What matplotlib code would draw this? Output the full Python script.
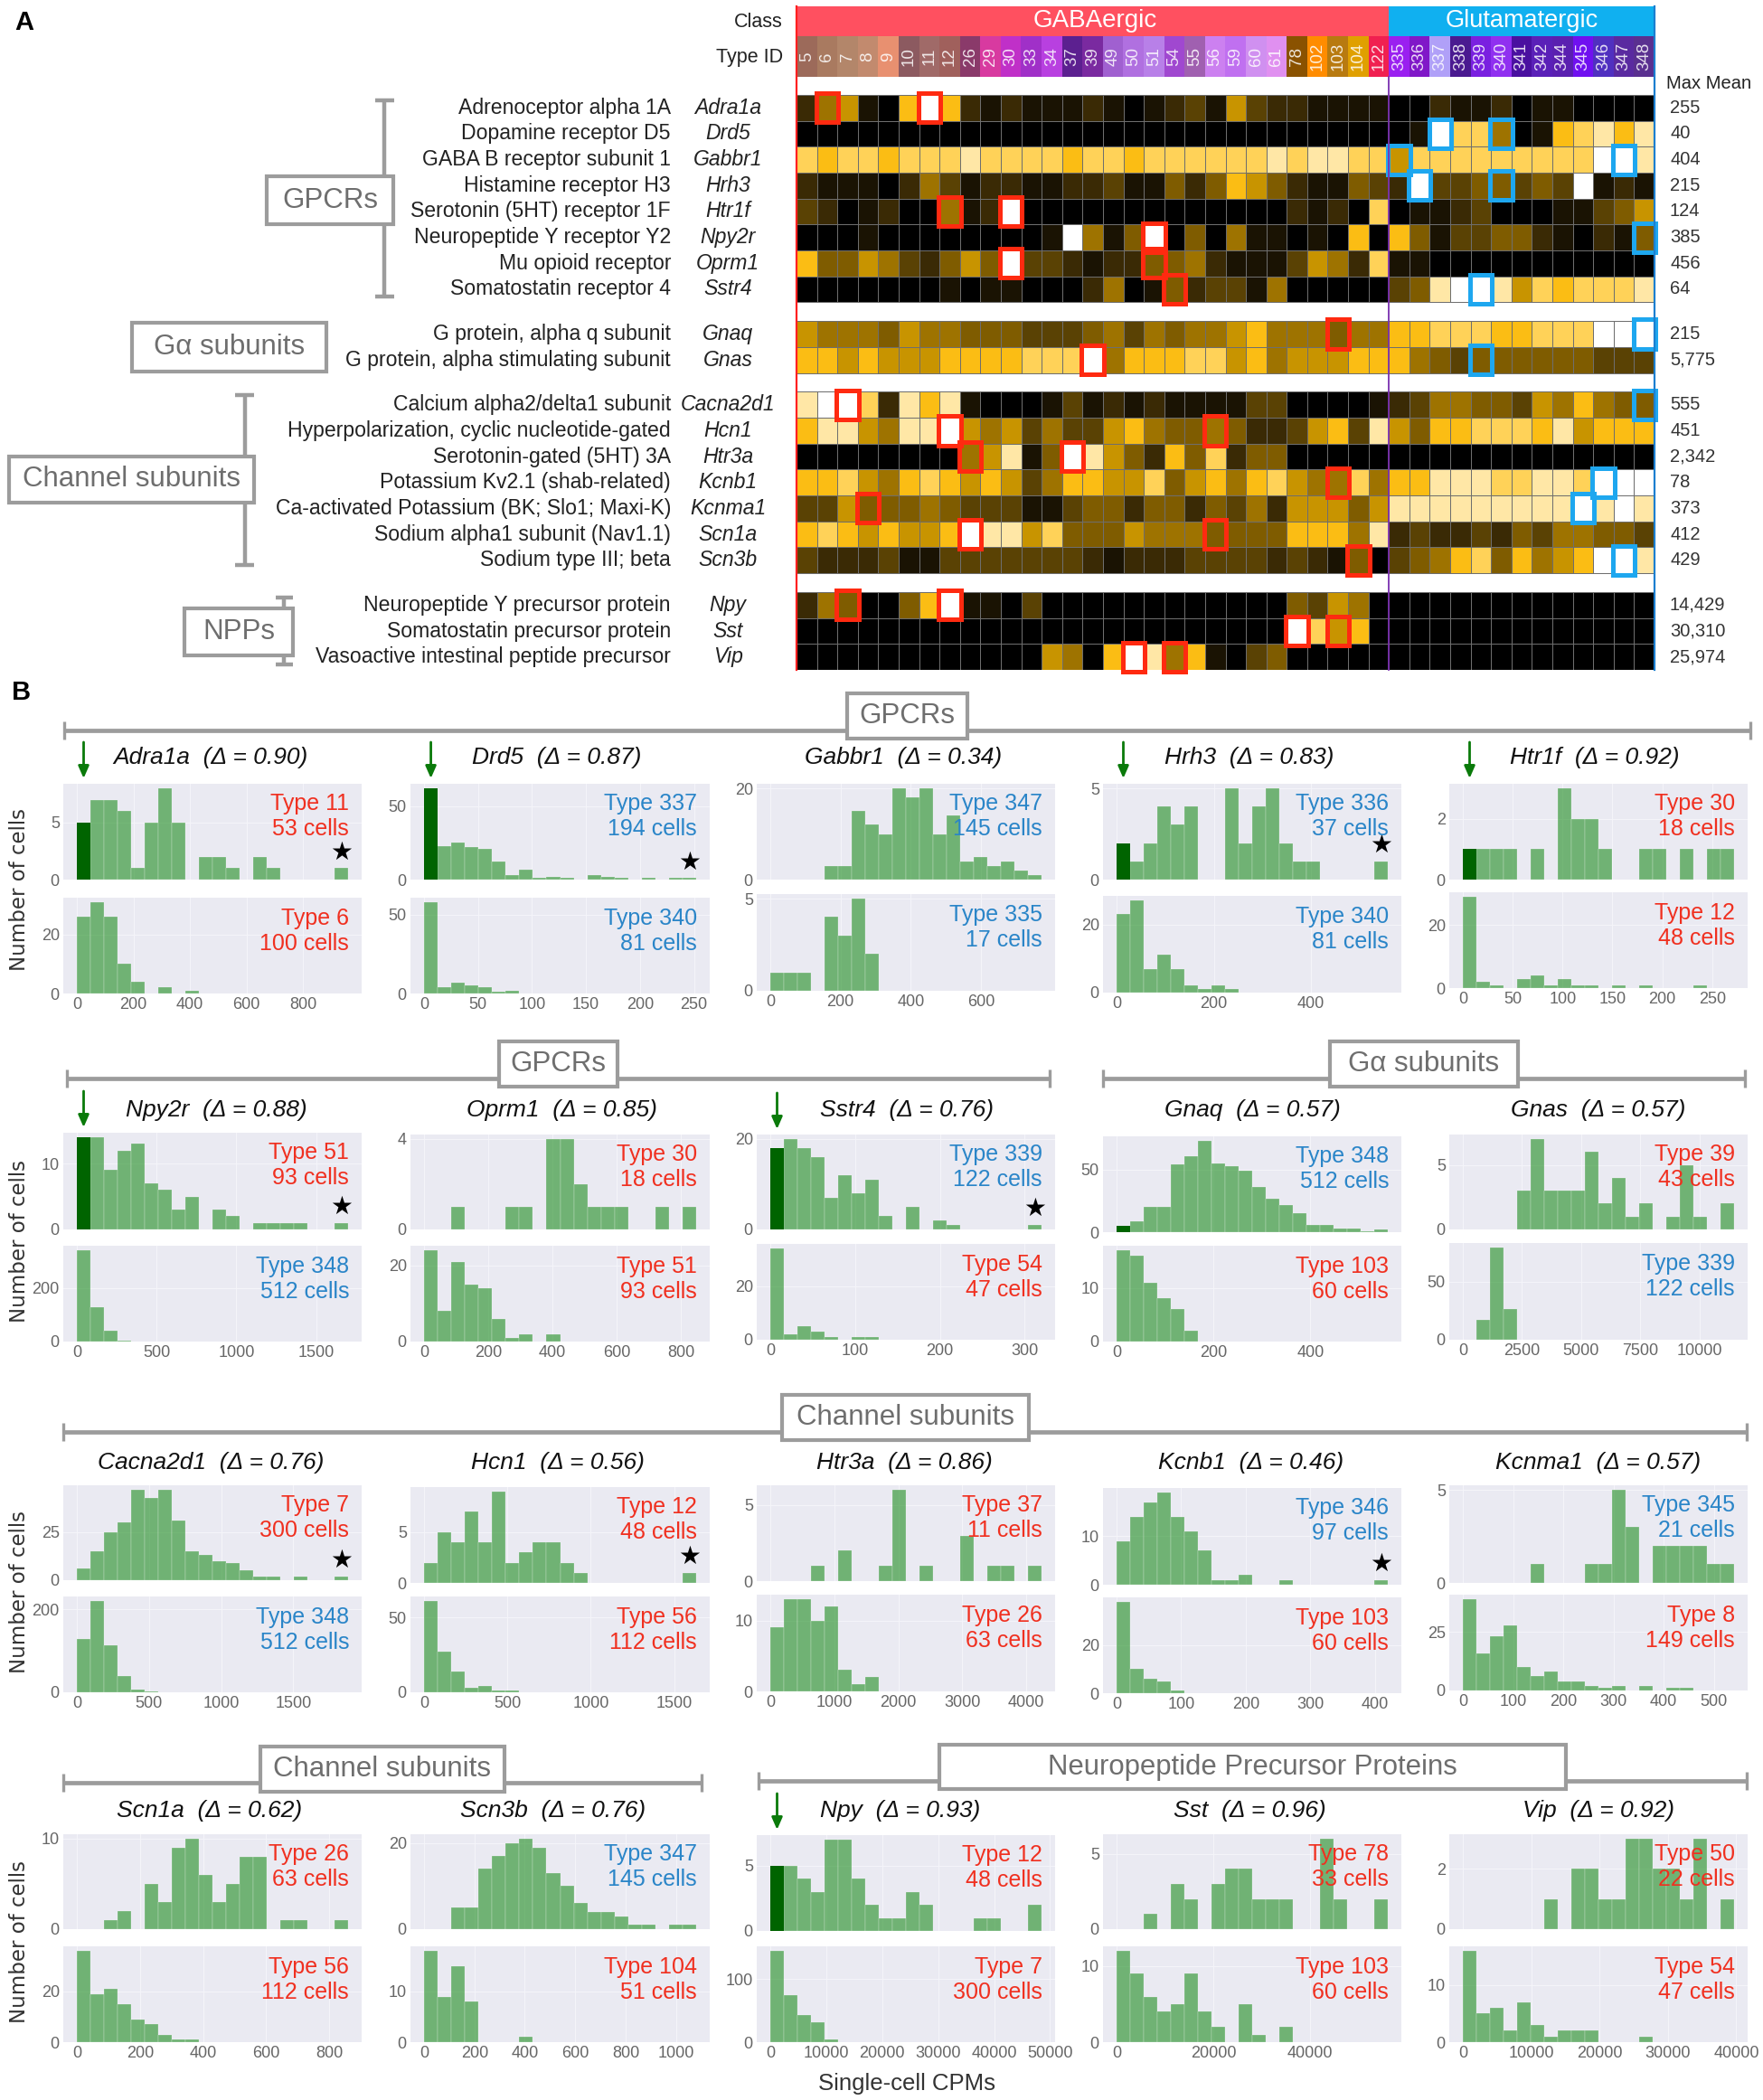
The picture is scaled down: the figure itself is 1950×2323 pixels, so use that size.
import matplotlib
matplotlib.use("Agg")
import matplotlib.pyplot as plt
import numpy as np
from matplotlib.colors import ListedColormap
from matplotlib.patches import Rectangle

plt.rcParams['font.family'] = ['Liberation Sans', 'DejaVu Sans']
W, H = 1950, 2323

# ---------------- heat map data (expression level 0..10 per cell type) ----------------
type_ids = ['5','6','7','8','9','10','11','12','26','29','30','33','34','37','39','49','50','51','54','55',
            '56','59','60','61','78','102','103','104','122',
            '335','336','337','338','339','340','341','342','344','345','346','347','348']
type_colors = ['#9c6a5a','#a97a60','#b3866a','#c28a6e','#e89070','#8c5a60','#a06a68','#a0605c','#8a3a6a','#d83aa0',
               '#c030c8','#a030c8','#b840e0','#5c2090','#7a2aa0','#a060d0','#b070e0','#b880e8','#a048d0','#a060b0',
               '#cc80f0','#c070f0','#d090f0','#e090f0','#8a5200','#ff8c00','#b87a10','#e0a000','#f02050',
               '#9a20f0','#8018c8','#b0a0f8','#4a1a90','#7a20e0','#9030f0','#4a10a0','#5a20b8','#5a20b0','#7010f0',
               '#5030c0','#5a2aa0','#5a3090'][:42]
gene_desc = ['Adrenoceptor alpha 1A','Dopamine receptor D5','GABA B receptor subunit 1','Histamine receptor H3',
             'Serotonin (5HT) receptor 1F','Neuropeptide Y receptor Y2','Mu opioid receptor','Somatostatin receptor 4',
             'G protein, alpha q subunit','G protein, alpha stimulating subunit',
             'Calcium alpha2/delta1 subunit','Hyperpolarization, cyclic nucleotide-gated','Serotonin-gated (5HT) 3A',
             'Potassium Kv2.1 (shab-related)','Ca-activated Potassium (BK; Slo1; Maxi-K)','Sodium alpha1 subunit (Nav1.1)',
             'Sodium type III; beta',
             'Neuropeptide Y precursor protein','Somatostatin precursor protein','Vasoactive intestinal peptide precursor']
gene_names = ['Adra1a','Drd5','Gabbr1','Hrh3','Htr1f','Npy2r','Oprm1','Sstr4','Gnaq','Gnas','Cacna2d1','Hcn1','Htr3a',
              'Kcnb1','Kcnma1','Scn1a','Scn3b','Npy','Sst','Vip']
max_mean = ['255','40','404','215','124','385','456','64','215','5,775','555','451','2,342','78','373','412','429',
            '14,429','30,310','25,974']

row_adra1a = [2,5,6,1,0,7,10,7,2,1,2,1,1,1,2,1,0,1,2,3,1,6,3,2,2,1,1,1,1, 0,0,2,1,1,2,0,1,1,0,0,0,0]
row_drd5   = [0]*29 + [0,1,10,8,8,5,0,1,7,8,9,7,9]
row_gabbr1 = [8,7,8,8,7,8,8,8,9,8,8,8,8,7,8,8,7,8,8,8,8,8,8,9,8,9,9,8,8, 6,8,8,8,8,8,8,8,8,8,10,10,9]
row_hrh3   = [2,1,1,1,0,2,5,3,1,2,2,1,1,2,2,3,1,1,4,2,4,7,6,4,2,1,1,4,3, 2,10,3,3,4,4,3,4,3,10,1,2,1]
row_htr1f  = [3,2,0,1,2,0,0,5,1,2,10,0,0,0,0,0,0,0,0,0,0,0,0,0,2,1,2,0,8, 0,1,1,2,3,0,0,0,1,1,3,4,6]
row_npy2r  = [0,0,0,1,0,0,0,0,0,0,0,0,1,10,5,1,4,10,0,4,0,5,1,1,0,1,0,7,0, 7,4,1,3,3,4,4,2,1,0,2,1,4]
row_oprm1  = [7,4,4,6,5,3,2,4,6,4,10,3,3,2,1,2,2,4,4,5,2,1,1,1,3,6,5,2,8, 1,1,0,0,0,0,0,0,0,0,0,0,0]
row_sstr4  = [0,0,0,0,0,0,0,1,0,1,1,0,0,0,2,5,0,1,4,2,3,3,1,5,0,0,0,0,0, 3,4,9,10,10,9,6,8,7,8,8,8,9]
row_gnaq   = [6,5,5,5,4,6,5,5,4,4,4,3,3,3,4,5,3,5,4,5,5,6,7,5,5,5,4,5,5, 7,7,8,8,8,7,7,8,8,8,10,10,10]
row_gnas   = [7,7,6,7,6,6,6,7,7,7,7,8,8,8,10,5,7,7,7,8,8,6,7,5,6,6,6,7,7, 7,5,4,3,4,4,4,4,4,4,3,3,3]
row_cacna2d1 = [9,10,10,8,2,9,7,9,1,0,0,0,1,3,1,2,1,2,1,1,1,1,3,3,0,0,0,0,1, 2,3,5,5,4,4,3,6,5,7,5,4,4]
row_hcn1   = [7,9,9,6,5,9,9,10,6,5,6,3,5,3,3,6,7,5,4,4,5,4,2,2,3,6,7,3,9, 6,4,7,7,8,8,8,7,9,6,7,7,7]
row_htr3a  = [0,0,0,0,0,0,0,0,5,6,9,1,4,10,9,6,4,2,7,4,8,2,4,4,0,0,0,0,0, 0,0,0,0,0,0,0,0,0,0,0,0,0]
row_kcnb1  = [7,7,8,6,5,7,8,7,6,7,6,3,5,7,7,6,6,8,4,6,7,5,7,8,6,5,5,8,5, 7,7,9,9,9,8,8,9,9,8,10,10,10]
row_kcnma1 = [3,3,6,4,4,4,5,4,3,3,3,1,1,3,4,4,2,4,4,2,4,3,5,2,6,6,6,4,6, 9,9,9,9,9,9,9,9,9,10,9,10,9]
row_scn1a  = [7,8,7,6,7,6,6,7,10,9,9,6,8,4,4,4,6,5,5,5,4,4,4,4,7,7,7,5,9, 2,3,2,2,3,2,4,3,5,5,4,4,3]
row_scn3b  = [3,2,2,2,3,1,1,3,3,3,3,3,3,3,2,1,2,2,2,3,3,3,3,2,3,2,1,4,0, 3,4,5,7,8,4,7,5,6,7,10,10,9]
row_npy    = [2,5,4,0,0,4,7,10,1,1,0,3,0,0,0,0,0,0,0,0,0,0,0,0,4,3,6,5,0] + [0]*13
row_sst    = [0]*24 + [10,8,6,7,0] + [0]*13
row_vip    = [0]*12 + [6,5,0,7,10,9,5,7,1,0,3,4,0,0,0,0,0] + [0]*13
heat_rows = [row_adra1a,row_drd5,row_gabbr1,row_hrh3,row_htr1f,row_npy2r,row_oprm1,row_sstr4,row_gnaq,row_gnas,
             row_cacna2d1,row_hcn1,row_htr3a,row_kcnb1,row_kcnma1,row_scn1a,row_scn3b,row_npy,row_sst,row_vip]
group_sizes = [8, 2, 7, 3]
# highlighted types: one pair per gene
hl_types = [('6','11'),('337','340'),('335','347'),('336','340'),('12','30'),('51','348'),('30','51'),('54','339'),
            ('103','348'),('39','339'),('7','348'),('12','56'),('26','37'),('103','346'),('8','345'),('26','56'),
            ('104','347'),('7','12'),('78','103'),('50','54')]
level_colors = ['#000000','#1a1303','#3a2a05','#5a4204','#7f5c00','#9e7300','#c89400','#fbbd14','#ffd258','#ffe7a6','#ffffff']

# ---------------- histogram data ----------------
adra1a_top = [5,7,7,6,1,5,8,5,0,2,2,1,0,2,1,0,0,0,0,1]
adra1a_bot = [26,31,26,10,4,0,2,0,1]
drd5_top = [62,23,25,22,21,12,3,7,1,2,1,0,3,2,1,0,1,0,1,1]
drd5_bot = [58,4,7,5,4,1,2]
gabbr1_top = [0,0,0,0,3,3,15,12,10,20,18,20,10,14,4,5,3,4,2,1]
gabbr1_bot = [1,1,1,0,4,3,5,2]
hrh3_top = [2,1,2,4,3,4,0,0,5,2,4,5,2,1,1,0,0,0,0,1]
hrh3_bot = [23,27,7,11,7,2,1,2,1]
htr1f_top = [1,1,1,1,0,1,0,3,2,2,1,0,0,1,1,0,1,0,1,1]
htr1f_bot = [29,2,1,0,3,4,1,3,1,1,0,1,0,1,0,0,0,1]
npy2r_top = [14,14,9,12,13,7,6,3,5,0,3,2,0,1,1,1,1,0,0,1]
npy2r_bot = [340,127,40,5]
oprm1_top = [0,0,1,0,0,0,1,1,0,4,4,2,1,1,1,0,0,1,0,1]
oprm1_bot = [24,8,21,15,14,6,1,2,0,2]
sstr4_top = [18,20,18,16,7,12,8,11,3,0,5,0,2,1,0,0,0,0,0,1]
sstr4_bot = [34,2,5,3,1,0,1,1]
gnaq_top = [5,9,20,20,54,61,73,55,53,49,36,27,22,15,6,6,3,3,1,2]
gnaq_bot = [17,16,11,8,6,2]
gnas_top = [0,0,0,0,3,7,3,3,3,6,2,4,1,2,0,1,5,1,0,2]
gnas_bot = [0,17,79,26]
cacna2d1_top = [6,15,25,30,47,43,47,31,15,13,10,9,5,2,2,0,2,0,0,2]
cacna2d1_bot = [128,220,113,40,7,2]
hcn1_top = [2,5,4,7,4,9,2,3,4,4,2,1,0,0,0,0,0,0,0,1]
hcn1_bot = [61,27,14,3,4,1,1]
htr3a_top = [0,0,0,1,0,2,0,0,1,6,0,1,0,0,3,0,1,1,0,1]
htr3a_bot = [9,13,13,10,12,3,1,2]
kcnb1_top = [9,14,17,19,14,11,7,1,1,2,0,0,1,0,0,0,0,0,0,1]
kcnb1_bot = [38,10,6,5,1]
kcnma1_top = [0,0,0,0,0,1,0,0,0,1,1,5,3,0,2,2,2,2,1,1]
kcnma1_bot = [39,16,23,28,10,6,8,4,4,2,1,2,0,2,0,1,1]
scn1a_top = [0,0,1,2,0,5,3,9,10,6,3,5,8,8,0,1,1,0,0,1]
scn1a_bot = [36,19,21,15,9,7,3,1,1]
scn3b_top = [0,0,5,5,14,17,20,21,19,13,10,6,4,4,3,1,1,0,1,1]
scn3b_bot = [18,9,15,8,0,0,0,1]
npy_top = [5,5,4,3,7,7,4,2,1,1,3,2,0,0,0,1,1,0,0,2]
npy_bot = [145,75,43,32,5]
sst_top = [0,0,1,0,3,2,0,3,4,4,2,2,2,0,0,6,2,0,0,2]
sst_bot = [12,9,6,4,5,9,4,2,0,5,1,0,2]
vip_top = [0,0,0,0,0,0,1,0,2,2,1,1,3,3,2,2,1,3,0,1]
vip_bot = [16,5,6,2,7,3,1,2,2,2,0,0,0,1]

genes = ['Adra1a','Drd5','Gabbr1','Hrh3','Htr1f','Npy2r','Oprm1','Sstr4','Gnaq','Gnas',
         'Cacna2d1','Hcn1','Htr3a','Kcnb1','Kcnma1','Scn1a','Scn3b','Npy','Sst','Vip']
deltas = ['0.90','0.87','0.34','0.83','0.92','0.88','0.85','0.76','0.57','0.57',
          '0.76','0.56','0.86','0.46','0.57','0.62','0.76','0.93','0.96','0.92']
bin_widths = [48,12.6,38.6,27.9,13.6,85,42.4,16,28,573,94,81.6,212,21,27,43,54,2424,2800,1984]
tops = [adra1a_top,drd5_top,gabbr1_top,hrh3_top,htr1f_top,npy2r_top,oprm1_top,sstr4_top,gnaq_top,gnas_top,
        cacna2d1_top,hcn1_top,htr3a_top,kcnb1_top,kcnma1_top,scn1a_top,scn3b_top,npy_top,sst_top,vip_top]
bots = [adra1a_bot,drd5_bot,gabbr1_bot,hrh3_bot,htr1f_bot,npy2r_bot,oprm1_bot,sstr4_bot,gnaq_bot,gnas_bot,
        cacna2d1_bot,hcn1_bot,htr3a_bot,kcnb1_bot,kcnma1_bot,scn1a_bot,scn3b_bot,npy_bot,sst_bot,vip_bot]
x_ticks = [[0,200,400,600,800],[0,50,100,150,200,250],[0,200,400,600],[0,200,400],[0,50,100,150,200,250],
           [0,500,1000,1500],[0,200,400,600,800],[0,100,200,300],[0,200,400],[0,2500,5000,7500,10000],
           [0,500,1000,1500],[0,500,1000,1500],[0,1000,2000,3000,4000],[0,100,200,300,400],[0,100,200,300,400,500],
           [0,200,400,600,800],[0,200,400,600,800,1000],[0,10000,20000,30000,40000,50000],[0,20000,40000],
           [0,10000,20000,30000,40000]]
ytick_top = [[0,5],[0,50],[0,20],[0,5],[0,2],[0,10],[0,4],[0,20],[0,50],[0,5],[0,25],[0,5],[0,5],[0,10],[0,5],
             [0,10],[0,20],[0,5],[0,5],[0,2]]
ytick_bot = [[0,20],[0,50],[0,5],[0,20],[0,20],[0,200],[0,20],[0,20],[0,10],[0,50],[0,200],[0,50],[0,10],[0,20],[0,25],
             [0,20],[0,10],[0,100],[0,10],[0,10]]
type_top = ['11','337','347','336','30','51','30','339','348','39','7','12','37','346','345','26','347','12','78','50']
cells_top = ['53','194','145','37','18','93','18','122','512','43','300','48','11','97','21','63','145','48','33','22']
type_bot = ['6','340','335','340','12','348','51','54','103','339','348','56','26','103','8','56','104','7','103','54']
cells_bot = ['100','81','17','81','48','512','93','47','60','122','512','112','63','60','149','112','51','300','60','47']
arrow_genes = ['Adra1a','Drd5','Hrh3','Htr1f','Npy2r','Sstr4','Npy']
dark_first_genes = ['Adra1a','Drd5','Hrh3','Htr1f','Npy2r','Sstr4','Gnaq','Npy']
star_genes = ['Adra1a','Drd5','Hrh3','Npy2r','Sstr4','Cacna2d1','Hcn1','Kcnb1']

# ---------------- layout in pixels ----------------
col_x = [(70,400),(454,785),(837,1167),(1220,1550),(1603,1933)]
title_x = [233,616,999,1382,1764, 239,621,1003,1385,1768, 233,617,1000,1384,1768, 232,612,996,1382,1768]
title_y = [838,1228,1618,2003]
row_off = [760,1150,1540,1930]
# zoom-read panel extents relative to each row's offset (top0, top1, bottom0, bottom1), in px
ybox = [(107,213,233,339),(107,213,233,339),(107,213,229,336),(107,213,231,338),(107,213,227,333),
        (103,210,228,334),(105,210,228,334),(105,210,226,332),(107,213,228,334),(105,210,225,332),
        (103,208,226,332),(105,211,226,332),(103,209,224,331),(106,213,227,333),(103,211,224,330),
        (99,204,223,329),(99,204,223,329),(100,206,223,329),(99,204,223,329),(99,204,223,329)]

GREEN, DARK = 'green', '#006400'
RED, BLUE = '#f03020', '#2a85c8'
GREY, BOXTXT = '#9c9c9c', '#6e6e6e'

fig = plt.figure(figsize=(W/100, H/100), dpi=100, facecolor='white')

def px_axes(x0, y0, x1, y1, **kw):
    return fig.add_axes([x0/W, 1-y1/H, (x1-x0)/W, (y1-y0)/H], **kw)

# ---------------- heat map ----------------
HX0, HX1, HY0, HY1 = 881, 1830, 105, 741
GAP = 0.73
n_cols = len(type_ids)
cmap = ListedColormap(level_colors)
axh = px_axes(HX0, HY0, HX1, HY1)
row_tops = []
y = 0.0
idx = 0
for n in group_sizes:
    sub = np.array(heat_rows[idx:idx+n], dtype=float)
    axh.pcolormesh(np.arange(n_cols+1), y+np.arange(n+1), sub, cmap=cmap, vmin=-0.5, vmax=10.5,
                   edgecolors='#6e6e6e', linewidth=0.6)
    row_tops.extend(y+np.arange(n))
    idx += n
    y += n + GAP
total = y - GAP
axh.set_xlim(0, n_cols); axh.set_ylim(total, 0); axh.axis('off')
axh.set_zorder(3)

for r, pair in enumerate(hl_types):
    for t in pair:
        c = type_ids.index(t)
        ec = '#1ea7ef' if int(t) >= 335 else '#ff2a10'
        axh.add_patch(Rectangle((c-0.04, row_tops[r]-0.06), 1.08, 1.12, fill=False, ec=ec, lw=3.6,
                                clip_on=False, zorder=6))

# class and type strips
axs = px_axes(HX0, 40, HX1, 85)
axs.imshow(np.arange(n_cols).reshape(1, -1), cmap=ListedColormap(type_colors), aspect='auto',
           extent=(0, n_cols, 1, 0), interpolation='nearest')
axs.axis('off')
for i, t in enumerate(type_ids):
    axs.text(i+0.5, 0.5, t, rotation=90, ha='center', va='center', color='white', alpha=0.85, fontsize=13.5)
axc = px_axes(HX0, 7, HX1, 40)
axc.set_xlim(0, n_cols); axc.set_ylim(0, 1); axc.axis('off')
axc.axvspan(0, 29, color='#ff5060', lw=0)
axc.axvspan(29, n_cols, color='#10b0f0', lw=0)
axc.text(14.6, 0.5, 'GABAergic', color='white', ha='center', va='center', fontsize=20)
axc.text(35.5, 0.5, 'Glutamatergic', color='white', ha='center', va='center', fontsize=19.5)

# ---------------- histogram panels ----------------
def draw_hist(ax, values, binw, dark):
    vals = np.array(values, dtype=float)
    pos = np.arange(len(vals))
    keep = vals > 0
    ax.bar(pos[keep]*binw, vals[keep], width=binw, align='edge', color=GREEN, alpha=0.52,
           edgecolor='white', linewidth=0.3, zorder=3)
    if dark:
        ax.bar([0], [vals[0]], width=binw, align='edge', color=DARK, zorder=4)

def style(ax, binw, yt):
    ax.set_facecolor('#EAEAF2')
    for s in ax.spines.values():
        s.set_visible(False)
    ax.grid(color='#f4f4f9', lw=0.8)
    ax.set_axisbelow(True)
    ax.set_xlim(-binw, 21*binw)
    ax.set_yticks(yt)
    ax.tick_params(length=0, labelsize=13, labelcolor='#666666', pad=3)

panel_axes = {}
for i, g in enumerate(genes):
    row, col = divmod(i, 5)
    off = row_off[row]
    x0, x1 = col_x[col]
    t0, t1, b0, b1 = ybox[i]
    binw = bin_widths[i]
    axt = px_axes(x0, off+t0, x1, off+t1)
    axb = px_axes(x0, off+b0, x1, off+b1)
    draw_hist(axt, tops[i], binw, g in dark_first_genes)
    draw_hist(axb, bots[i], binw, False)
    style(axt, binw, ytick_top[i]); style(axb, binw, ytick_bot[i])
    axt.set_xticks(x_ticks[i]); axt.tick_params(labelbottom=False)
    axb.set_xticks(x_ticks[i])
    panel_axes[g] = (axt, axb)
    if g in star_genes:
        axt.annotate('★', xy=((19+0.5)*binw, tops[i][19]), xytext=(0, 12), textcoords='offset points',
                     ha='center', va='center', fontsize=20, color='black', annotation_clip=False, zorder=8)
    if g in arrow_genes:
        tr = axt.get_xaxis_transform()
        h = t1 - t0
        axt.annotate('', xy=(0.5*binw, 1+6/h), xytext=(0.5*binw, 1+46/h), xycoords=tr, textcoords=tr,
                     arrowprops=dict(arrowstyle='-|>,head_width=0.35,head_length=0.8', color='#0a7a0a', lw=2,
                                     shrinkA=0, shrinkB=0), annotation_clip=False)

# ---------------- overlay: text and decorations (pixel coordinates) ----------------
ov = fig.add_axes([0, 0, 1, 1], zorder=10)
ov.set_xlim(0, W); ov.set_ylim(H, 0); ov.axis('off'); ov.patch.set_alpha(0)

ov.text(27, 25, 'A', fontsize=21, fontweight='bold', ha='center', va='center', color='black')
ov.text(24, 766, 'B', fontsize=21, fontweight='bold', ha='center', va='center', color='black')
ov.text(866, 24, 'Class', fontsize=15.5, ha='right', va='center', color='#222222')
ov.text(866, 63, 'Type ID', fontsize=15.5, ha='right', va='center', color='#222222')
ov.text(1890, 93, 'Max Mean', fontsize=14.5, ha='center', va='center', color='#222222')

# frame lines of the heat map
ov.plot([HX0, HX0], [7, HY1], color='#ff2020', lw=1.6)
ov.plot([HX1, HX1], [7, HY1], color='#1c7fd0', lw=1.6)
ov.plot([1536, 1536], [85, HY1], color='#7a30b0', lw=1.3)

# row labels follow the heat-map rows
scale = (HY1-HY0)/total
for r, (d, g, m) in enumerate(zip(gene_desc, gene_names, max_mean)):
    yc = HY0 + (row_tops[r]+0.5)*scale
    ov.text(742, yc, d, fontsize=16.6, ha='right', va='center', color='#222222')
    ov.text(805, yc, g, fontsize=16.6, ha='center', va='center', style='italic', color='#222222')
    ov.text(1847, yc, m, fontsize=14.5, ha='left', va='center', color='#333333')

def box(x0, y0, x1, y1, label, fs=22.5, lw=3):
    ov.add_patch(Rectangle((x0, y0), x1-x0, y1-y0, fc='white', ec=GREY, lw=lw, zorder=5))
    ov.text((x0+x1)/2, (y0+y1)/2, label, fontsize=fs, color=BOXTXT, ha='center', va='center', zorder=6)

def vbracket(x, y0, y1, x0, x1):
    ov.plot([x, x], [y0, y1], color=GREY, lw=3.2, solid_capstyle='butt', zorder=4)
    for y_ in (y0, y1):
        ov.plot([x0, x1], [y_, y_], color=GREY, lw=3.2, solid_capstyle='butt', zorder=4)

vbracket(425, 111, 328, 415, 436); box(295, 195, 435, 248, 'GPCRs')
box(146, 357, 361, 411, 'G\u03b1 subunits')
vbracket(271, 437, 625, 260, 281); box(10, 505, 281, 556, 'Channel subunits')
vbracket(314, 661, 735, 305, 324); box(204, 673, 324, 725, 'NPPs')

def hbracket(x0, x1, y_):
    ov.plot([x0, x1], [y_, y_], color=GREY, lw=3.4, solid_capstyle='butt', zorder=4)
    for x in (x0, x1):
        ov.plot([x, x], [y_-10, y_+10], color=GREY, lw=2.4, solid_capstyle='butt', zorder=4)

hbracket(71, 1936, 808);  box(937, 767, 1070, 817, 'GPCRs')
hbracket(74, 1161, 1193); box(552, 1152, 683, 1202, 'GPCRs')
hbracket(1220, 1930, 1193); box(1471, 1152, 1679, 1202, 'G\u03b1 subunits')
hbracket(70, 1932, 1584); box(865, 1543, 1138, 1593, 'Channel subunits')
hbracket(70, 776, 1972);  box(288, 1932, 558, 1982, 'Channel subunits')
hbracket(839, 1932, 1970); box(1039, 1930, 1732, 1979, 'Neuropeptide Precursor Proteins', fs=22.4)

for i, g in enumerate(genes):
    row, col = divmod(i, 5)
    off = row_off[row]
    x0, x1 = col_x[col]
    t0, t1, b0, b1 = ybox[i]
    ov.text(title_x[i], title_y[row], f'{g}  (\u0394 = {deltas[i]})', fontsize=19, style='italic',
            ha='center', va='center', color='#111111')
    ct = BLUE if int(type_top[i]) >= 335 else RED
    cb = BLUE if int(type_bot[i]) >= 335 else RED
    ov.text(x1-14, off+t0+22, f'Type {type_top[i]}', color=ct, fontsize=18, ha='right', va='center')
    ov.text(x1-14, off+t0+50, f'{cells_top[i]} cells', color=ct, fontsize=18, ha='right', va='center')
    ov.text(x1-14, off+b0+23, f'Type {type_bot[i]}', color=cb, fontsize=18, ha='right', va='center')
    ov.text(x1-14, off+b0+51, f'{cells_bot[i]} cells', color=cb, fontsize=18, ha='right', va='center')

for y_ in (984, 1373, 1761, 2148):
    ov.text(22, y_, 'Number of cells', rotation=90, fontsize=16.5, family='DejaVu Sans',
            ha='center', va='center', color='#333333')
ov.text(1003, 2305, 'Single-cell CPMs', fontsize=18.5, ha='center', va='center', color='#333333')

fig.savefig('out.png', dpi=100, facecolor='white')
